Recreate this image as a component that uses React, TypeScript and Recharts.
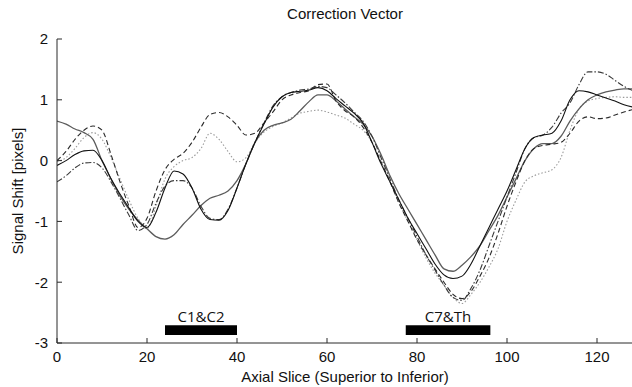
import React from 'react'
import { LineChart, Line, XAxis, YAxis, ReferenceArea } from 'recharts'

// axial slice positions (every 2 slices)
const slices = [
  0, 2, 4, 6, 8, 10, 12, 14, 16, 18, 20, 22, 24, 26, 28, 30, 32, 34, 36, 38, 40, 42, 44, 46, 48, 50, 52, 54, 56, 58, 60, 62,
  64, 66, 68, 70, 72, 74, 76, 78, 80, 82, 84, 86, 88, 90, 92, 94, 96, 98, 100, 102, 104, 106, 108, 110, 112, 114, 116, 118, 120, 122,
  124, 126, 128,
]

// solid gray
const shiftA = [
  0.65, 0.6, 0.52, 0.46, 0.35, 0.0, -0.3, -0.58, -0.8, -0.98, -1.12, -1.25, -1.29, -1.22, -1.05, -0.9, -0.74, -0.62, -0.57, -0.5, -0.33, -0.05, 0.3, 0.5, 0.58, 0.62, 0.68, 0.82, 0.97, 1.08, 1.08, 0.98,
  0.85, 0.72, 0.6, 0.4, 0.1, -0.25, -0.55, -0.8, -1.05, -1.3, -1.55, -1.78, -1.82, -1.72, -1.58, -1.4, -1.15, -0.9, -0.6, -0.3, 0.0, 0.2, 0.28, 0.28, 0.4, 0.65, 0.85, 1.0, 1.08, 1.13,
  1.16, 1.18, 1.18,
]
// solid black
const shiftB = [
  -0.08, 0.0, 0.1, 0.16, 0.17, 0.0, -0.3, -0.55, -0.78, -1.0, -1.1, -0.85, -0.45, -0.17, -0.22, -0.45, -0.8, -0.97, -0.98, -0.82, -0.45, -0.05, 0.3, 0.6, 0.88, 1.05, 1.12, 1.14, 1.16, 1.2, 1.15, 1.02,
  0.9, 0.78, 0.62, 0.3, -0.05, -0.35, -0.65, -0.95, -1.2, -1.45, -1.7, -1.88, -1.94, -1.9, -1.7, -1.4, -1.1, -0.8, -0.5, -0.15, 0.2, 0.38, 0.42, 0.45, 0.65, 1.0, 1.15, 1.13, 1.08, 1.03,
  0.98, 0.92, 0.88,
]
// dashed
const shiftC = [
  0.0, 0.15, 0.35, 0.5, 0.57, 0.5, 0.1, -0.35, -0.75, -1.1, -0.95, -0.5, -0.15, 0.02, 0.12, 0.3, 0.55, 0.76, 0.79, 0.72, 0.58, 0.42, 0.45, 0.62, 0.8, 1.0, 1.08, 1.12, 1.15, 1.25, 1.26, 0.98,
  0.82, 0.72, 0.55, 0.3, -0.02, -0.35, -0.7, -1.0, -1.3, -1.55, -1.78, -2.0, -2.2, -2.27, -2.15, -1.9, -1.6, -1.2, -0.75, -0.35, 0.0, 0.2, 0.25, 0.27, 0.3, 0.45, 0.65, 0.72, 0.69, 0.7,
  0.75, 0.8, 0.84,
]
// dotted
const shiftD = [
  -0.02, 0.05, 0.2, 0.38, 0.46, 0.35, 0.05, -0.3, -0.65, -0.95, -1.12, -0.75, -0.3, -0.1, 0.0, 0.05, 0.2, 0.45, 0.35, 0.15, -0.02, 0.05, 0.3, 0.47, 0.56, 0.62, 0.7, 0.78, 0.81, 0.83, 0.8, 0.75,
  0.7, 0.6, 0.5, 0.3, -0.02, -0.35, -0.7, -1.0, -1.3, -1.6, -1.85, -2.05, -2.25, -2.35, -2.2, -2.0, -1.75, -1.45, -1.0, -0.65, -0.35, -0.25, -0.2, -0.15, 0.05, 0.5, 0.85, 0.98, 1.02, 1.04,
  1.05, 1.04, 1.04,
]
// dash-dot
const shiftE = [
  -0.35, -0.25, -0.12, -0.04, -0.03, -0.12, -0.35, -0.62, -0.9, -1.15, -1.05, -0.7, -0.42, -0.33, -0.33, -0.45, -0.75, -0.95, -0.97, -0.8, -0.45, -0.05, 0.3, 0.62, 0.9, 1.05, 1.12, 1.16, 1.18, 1.22, 1.2, 1.08,
  0.95, 0.8, 0.65, 0.4, 0.05, -0.3, -0.65, -0.95, -1.25, -1.55, -1.8, -2.05, -2.25, -2.3, -2.1, -1.8, -1.4, -1.0, -0.6, -0.2, 0.2, 0.38, 0.42, 0.55, 0.78, 0.95, 1.25, 1.46, 1.46, 1.42,
  1.32, 1.22, 1.15,
]

const xTicks = [0, 20, 40, 60, 80, 100, 120]
const yTicks = [-3, -2, -1, 0, 1, 2]

// vertebra markers
const regionLabels = ['C1&C2', 'C7&Th']
const regionStart = [24, 77.5]
const regionEnd = [40, 96.3]
const regionLow = -2.87
const regionHigh = -2.71

const data = slices.map((s, i) => ({
  slice: s,
  a: shiftA[i],
  b: shiftB[i],
  c: shiftC[i],
  d: shiftD[i],
  e: shiftE[i],
}))

const axisColor = '#2a2a2a'
const tickFont = { fontSize: 15, fill: '#111', fontFamily: '"Liberation Sans", Arial, sans-serif' }

export default function App() {
  return (
    <div style={{ position: 'absolute', left: 0, top: 0, width: 632, height: 387, overflow: 'hidden', background: '#fff', fontFamily: '"Liberation Sans", Arial, sans-serif', color: '#111' }}>
      <div style={{ position: 'absolute', left: 195, width: 300, top: 6, fontSize: 15, lineHeight: '15px', textAlign: 'center' }}>
        Correction Vector
      </div>
      <div style={{ position: 'absolute', left: 145, width: 400, top: 369, fontSize: 15, lineHeight: '15px', textAlign: 'center' }}>
        Axial Slice (Superior to Inferior)
      </div>
      <div style={{ position: 'absolute', left: 18 - 150, top: 191 - 8, width: 300, height: 16, fontSize: 15, lineHeight: '16px', textAlign: 'center', transform: 'rotate(-90deg)' }}>
        Signal Shift [pixels]
      </div>
      <div style={{ position: 'absolute', left: 0, top: 0 }}>
        <LineChart width={640} height={387} data={data} margin={{ top: 39, right: 7, bottom: 0, left: 0 }}>
          <XAxis
            dataKey="slice"
            type="number"
            domain={[0, 128]}
            ticks={xTicks}
            allowDataOverflow
            height={44}
            tickSize={-5}
            tickMargin={13}
            stroke={axisColor}
            tick={tickFont}
          />
          <XAxis
            xAxisId="top"
            orientation="top"
            dataKey="slice"
            type="number"
            domain={[0, 128]}
            ticks={xTicks}
            height={0}
            tickSize={-5}
            tickFormatter={() => ''}
            stroke={axisColor}
          />
          <YAxis
            type="number"
            domain={[-3, 2]}
            ticks={yTicks}
            width={57}
            tickSize={-5}
            tickMargin={14}
            stroke={axisColor}
            tick={tickFont}
          />
          {regionLabels.map((name, i) => (
            <ReferenceArea
              key={name}
              x1={regionStart[i]}
              x2={regionEnd[i]}
              y1={regionLow}
              y2={regionHigh}
              fill="#000"
              fillOpacity={1}
              stroke="none"
              label={{ value: name, position: 'top', offset: 3, fontSize: 15, fill: '#111', fontFamily: '"Open Sans", "Noto Sans", sans-serif' }}
            />
          ))}
          <Line type="monotone" dataKey="d" stroke="#9a9a9a" strokeWidth={1.1} strokeDasharray="1.5 2" dot={false} isAnimationActive={false} />
          <Line type="monotone" dataKey="a" stroke="#5c5c5c" strokeWidth={1.3} dot={false} isAnimationActive={false} />
          <Line type="monotone" dataKey="c" stroke="#2a2a2a" strokeWidth={1.1} strokeDasharray="5 3" dot={false} isAnimationActive={false} />
          <Line type="monotone" dataKey="e" stroke="#3a3a3a" strokeWidth={1.1} strokeDasharray="6 2 1.5 2" dot={false} isAnimationActive={false} />
          <Line type="monotone" dataKey="b" stroke="#111" strokeWidth={1.1} dot={false} isAnimationActive={false} />
        </LineChart>
      </div>
    </div>
  )
}
